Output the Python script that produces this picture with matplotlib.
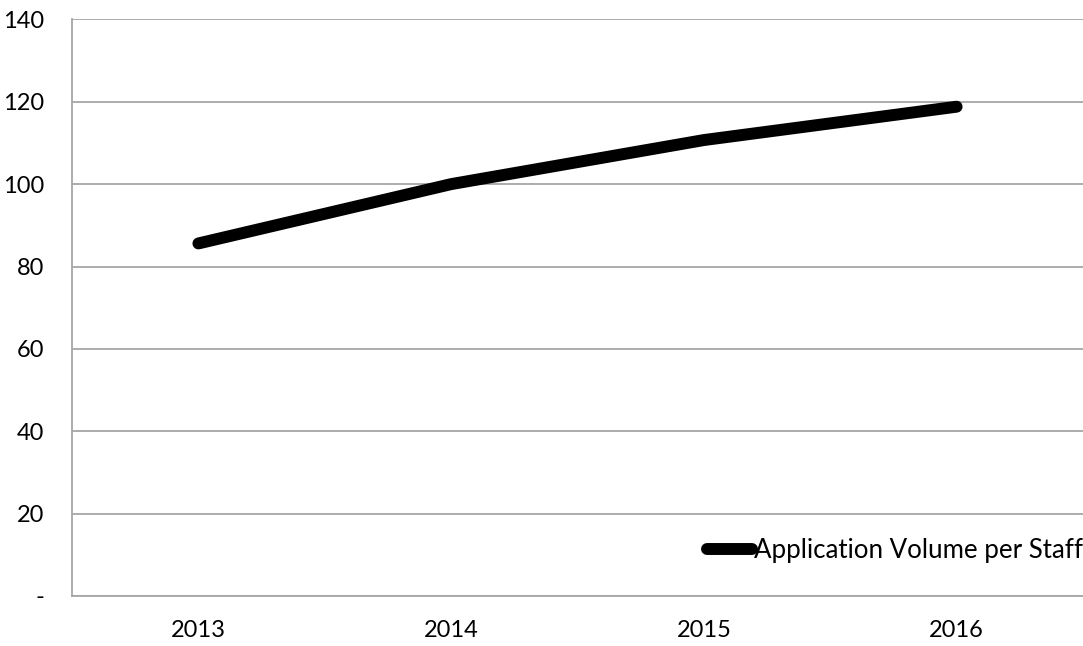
import matplotlib
matplotlib.use("Agg")
import matplotlib.pyplot as plt

years = ["2013", "2014", "2015", "2016"]
volume_per_staff = [85.6, 100.0, 110.7, 118.8]
y_ticks = [0, 20, 40, 60, 80, 100, 120, 140]
y_tick_labels = ["-", "20", "40", "60", "80", "100", "120", "140"]
series_name = "Application Volume per Staff"

plt.rcParams["font.family"] = ["Lato", "DejaVu Sans"]

fig = plt.figure(figsize=(10.83, 6.46), dpi=100)
ax = fig.add_axes([0.0665, 0.0774, 0.9335, 0.8926])

x = list(range(len(years)))
line, = ax.plot(x, volume_per_staff, color="black", linewidth=8.6,
                solid_capstyle="round", solid_joinstyle="round",
                label=series_name, zorder=3)

ax.set_xlim(-0.5, len(years) - 0.5)
ax.set_ylim(0, 140)
ax.set_yticks(y_ticks)
ax.set_yticklabels(y_tick_labels)
ax.set_xticks(x)
ax.set_xticklabels(years)

grid_color = "#a6a6a6"
ax.yaxis.grid(True, color=grid_color, linewidth=1.3)
ax.set_axisbelow(True)
for side in ("top", "right"):
    ax.spines[side].set_visible(False)
for side in ("left", "bottom"):
    ax.spines[side].set_color(grid_color)
    ax.spines[side].set_linewidth(1.3)

ax.tick_params(axis="both", length=0, labelsize=17, colors="black")
ax.tick_params(axis="y", pad=20)
ax.tick_params(axis="x", pad=17)

leg = ax.legend(loc="center right", bbox_to_anchor=(1.0, 0.0795), frameon=False,
                fontsize=18.6, handlelength=1.75, handletextpad=0.08,
                borderaxespad=0.0, borderpad=0.0)

fig.savefig("out.png", dpi=100)
